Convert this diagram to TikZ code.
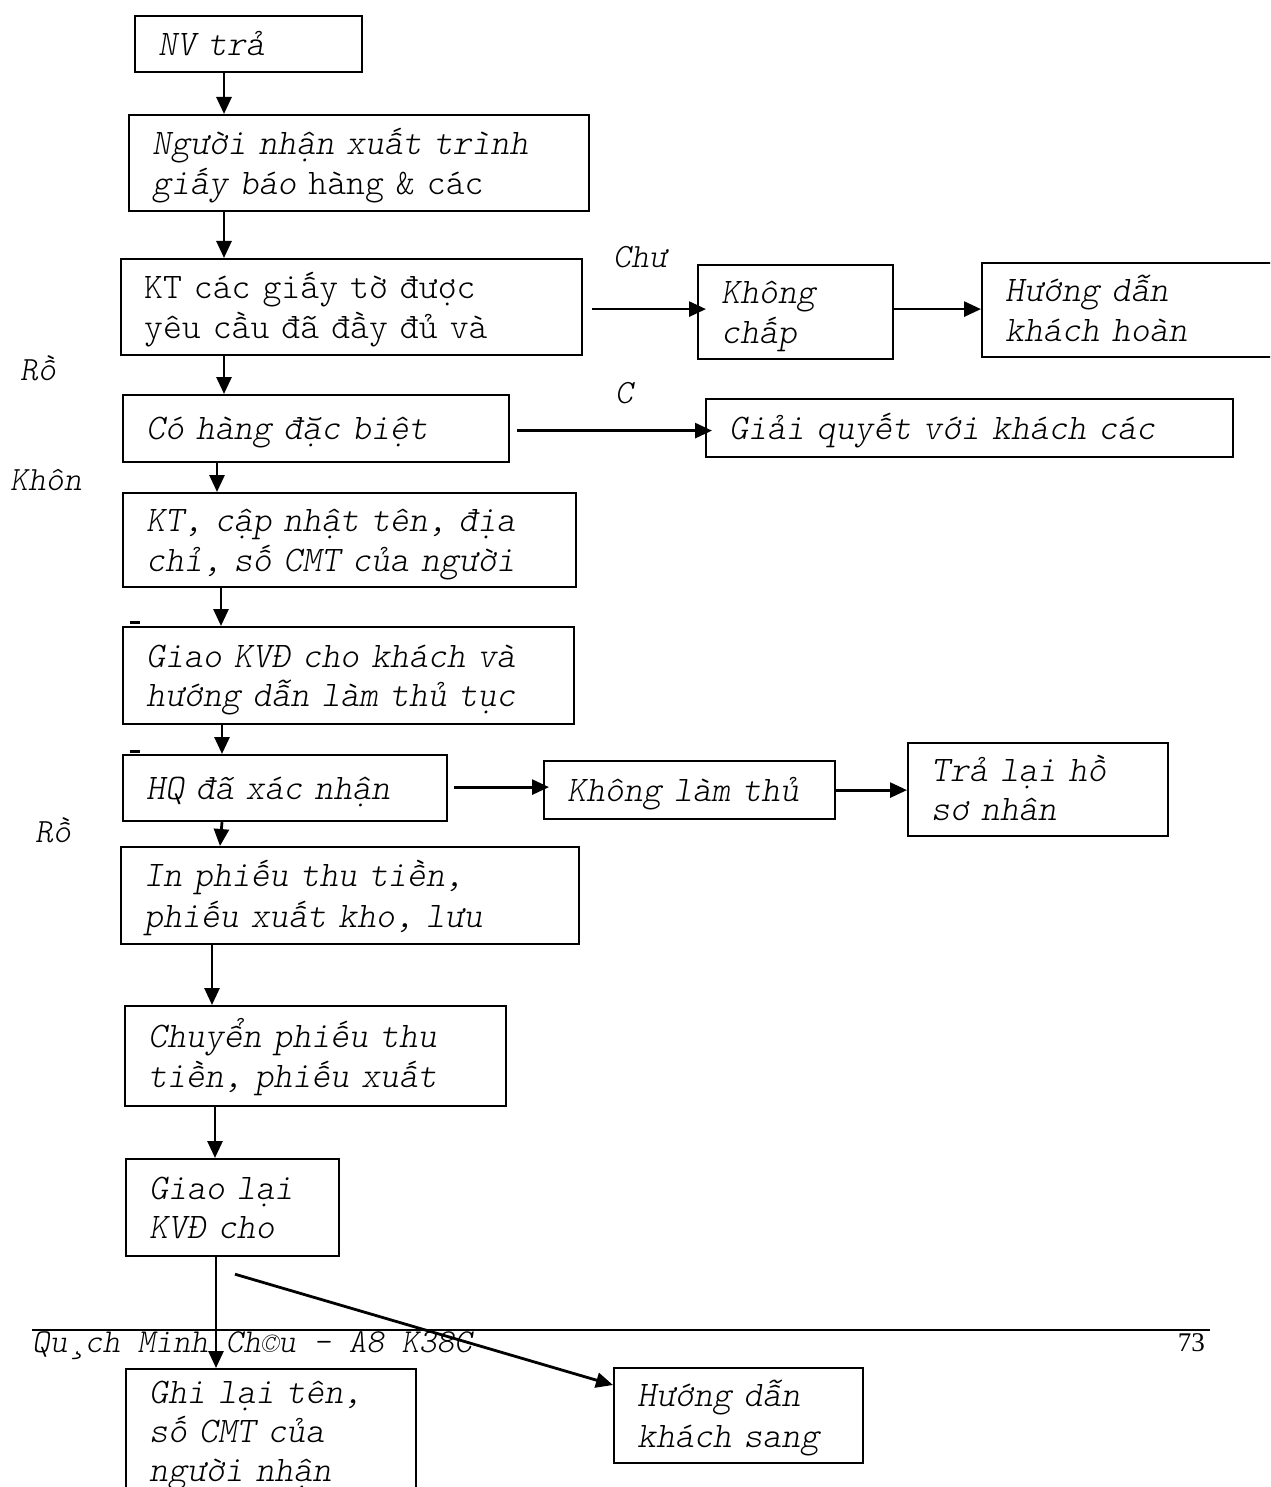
\documentclass[tikz,border=0pt]{standalone}
\usepackage{fontspec}
\newfontfamily\tnr{Liberation Serif}
\newfontfamily\cour{lmmonolt10}[Extension=.otf, UprightFont=*-regular, ItalicFont=*-oblique, BoldFont=*-bold]
\usetikzlibrary{arrows.meta}
\newcommand\nb[1]{\mbox{\rule[-8pt]{0pt}{39pt}#1}}
\begin{document}
\begin{tikzpicture}[x=1pt,y=-1pt,
  box/.style={draw, line width=2.2pt, anchor=north west, inner xsep=23pt, inner ysep=0pt,
    align=left, font=\cour\fontsize{36}{39}\selectfont\itshape},
  arr/.style={line width=2.8pt, -{Triangle[length=17pt,width=15pt]}},
  lbl/.style={anchor=west, inner sep=0pt, font=\cour\fontsize{34}{36}\selectfont\itshape},
  tick/.style={line width=3pt}]
\fill[white] (0,0) rectangle (1270,1487);
\useasboundingbox (0,0) rectangle (1270,1487);
\clip (0,0) rectangle (1270,1487);

% boxes
\node[box, minimum width=227pt, text width=181pt, minimum height=56pt] (nv) at (134,15) {\nb{NV trả}};
\node[box, minimum width=460pt, text width=414pt, minimum height=96pt] (nguoi) at (128,114)
  {\nb{Người nhận xuất trình}\\\nb{giấy báo {\upshape hàng \& các}}};
\node[box, minimum width=461pt, text width=415pt, minimum height=96pt, font=\cour\fontsize{36}{39}\selectfont\upshape] (kt) at (120,258)
  {\nb{KT các giấy tờ được}\\\nb{yêu cầu đã đầy đủ và}};
\node[box, minimum width=195pt, text width=149pt, minimum height=94pt] (khong) at (697,264)
  {\nb{Không}\\\nb{chấp}};
\node[box, minimum width=300pt, text width=254pt, minimum height=94pt] (hdhoan) at (981,262)
  {\nb{Hướng dẫn}\\\nb{khách hoàn}};
\node[box, minimum width=386pt, text width=340pt, minimum height=67pt] (coh) at (122,394)
  {\nb{Có hàng đặc biệt}};
\node[box, minimum width=527pt, text width=481pt, minimum height=58pt] (giai) at (705,398)
  {\nb{Giải quyết với khách các}};
\node[box, minimum width=453pt, text width=407pt, minimum height=94pt] (ktcn) at (122,492)
  {\nb{KT, cập nhật tên, địa}\\\nb{chỉ, số CMT của người}};
\node[box, minimum width=451pt, text width=405pt, minimum height=97pt] (giao) at (122,626)
  {\nb{Giao KVĐ cho khách và}\\\nb{hướng dẫn làm thủ tục}};
\node[box, minimum width=324pt, text width=278pt, minimum height=66pt] (hq) at (122,754)
  {\nb{HQ đã xác nhận}};
\node[box, minimum width=291pt, text width=245pt, minimum height=58pt] (khonglam) at (543,760)
  {\nb{Không làm thủ}};
\node[box, minimum width=260pt, text width=214pt, minimum height=93pt] (tralai) at (907,742)
  {\nb{Trả lại hồ}\\\nb{sơ nhân}};
\node[box, minimum width=458pt, text width=412pt, minimum height=97pt] (inp) at (120,846)
  {\nb{In phiếu thu tiền,}\\\nb{phiếu xuất kho, lưu}};
\node[box, minimum width=381pt, text width=335pt, minimum height=100pt] (chuyen) at (124,1005)
  {\nb{Chuyển phiếu thu}\\\nb{tiền, phiếu xuất}};
\node[box, minimum width=213pt, text width=167pt, minimum height=97pt] (giaolai) at (125,1158)
  {\nb{Giao lại}\\\nb{KVĐ cho}};
\node[box, minimum width=290pt, text width=244pt, minimum height=125pt] (ghi) at (125,1368)
  {\nb{Ghi lại tên,}\\\nb{số CMT của}\\\nb{người nhận}};
\node[box, minimum width=249pt, text width=203pt, minimum height=95pt] (hdsang) at (613,1367)
  {\nb{Hướng dẫn}\\\nb{khách sang}};

% labels
\node[lbl] (chu) at (613,257) {Chư};
\node[lbl] (ro1) at (20,368) {Rồ};
\node[lbl] (cc) at (615,393) {C};
\node[lbl] (khon) at (10,480) {Khôn};
\node[lbl] (ro2) at (35,830) {Rồ};

% small marks
\draw[tick] (130,622) -- (140,622);
\draw[tick] (130,751) -- (140,751);

% vertical arrows
\draw[arr] ([xshift=90pt]nv.south west) -- ([xshift=96pt]nguoi.north west);
\draw[arr] ([xshift=96pt]nguoi.south west) -- ([xshift=104pt]kt.north west);
\draw[arr] ([xshift=104pt]kt.south west) -- ([xshift=102pt]coh.north west);
\draw[arr] ([xshift=95pt]coh.south west) -- ([xshift=95pt]ktcn.north west);
\draw[arr] ([xshift=99pt]ktcn.south west) -- ([xshift=99pt]giao.north west);
\draw[arr] ([xshift=100pt]giao.south west) -- ([xshift=100pt]hq.north west);
\draw[arr] ([xshift=100pt]hq.south west) -- ([xshift=100pt]inp.north west);
\draw[arr] ([xshift=92pt]inp.south west) -- ([xshift=88pt]chuyen.north west);
\draw[arr] ([xshift=91pt]chuyen.south west) -- ([xshift=90pt]giaolai.north west);
\draw[arr] ([xshift=91pt]giaolai.south west) -- ([xshift=91pt]ghi.north west);

% horizontal arrows
\draw[arr] ([xshift=9pt,yshift=-2pt]kt.east) -- ([xshift=9pt,yshift=-2pt]kt.east -| khong.west);
\draw[arr] ([yshift=3pt]khong.east) -- ([yshift=3pt]khong.east -| hdhoan.west);
\draw[arr] ([xshift=7pt,yshift=-2pt]coh.east) -- ([xshift=7pt,yshift=-2pt]coh.east -| giai.west);
\draw[arr] ([xshift=6pt,yshift=1pt]hq.east) -- ([xshift=6pt,yshift=1pt]hq.east -| khonglam.west);
\draw[arr] (khonglam.east) -- (khonglam.east -| tralai.west);

% diagonal arrow
\draw[arr] ([xshift=110pt,yshift=-17pt]giaolai.south west) -- ([yshift=-18pt]hdsang.north west);

% footer
\draw[line width=2.2pt] (32,1330) -- (1210,1330);
\node[anchor=base west, inner sep=0pt, font=\cour\fontsize{33.5}{35}\selectfont\itshape] (foot) at (32,1352)
  {Qu¸ch Minh Ch©u - A8 K38C};
\node[anchor=base east, inner sep=0pt, font=\tnr\fontsize{27}{32}\selectfont] (pg) at (1205,1351) {73};
\end{tikzpicture}
\end{document}
